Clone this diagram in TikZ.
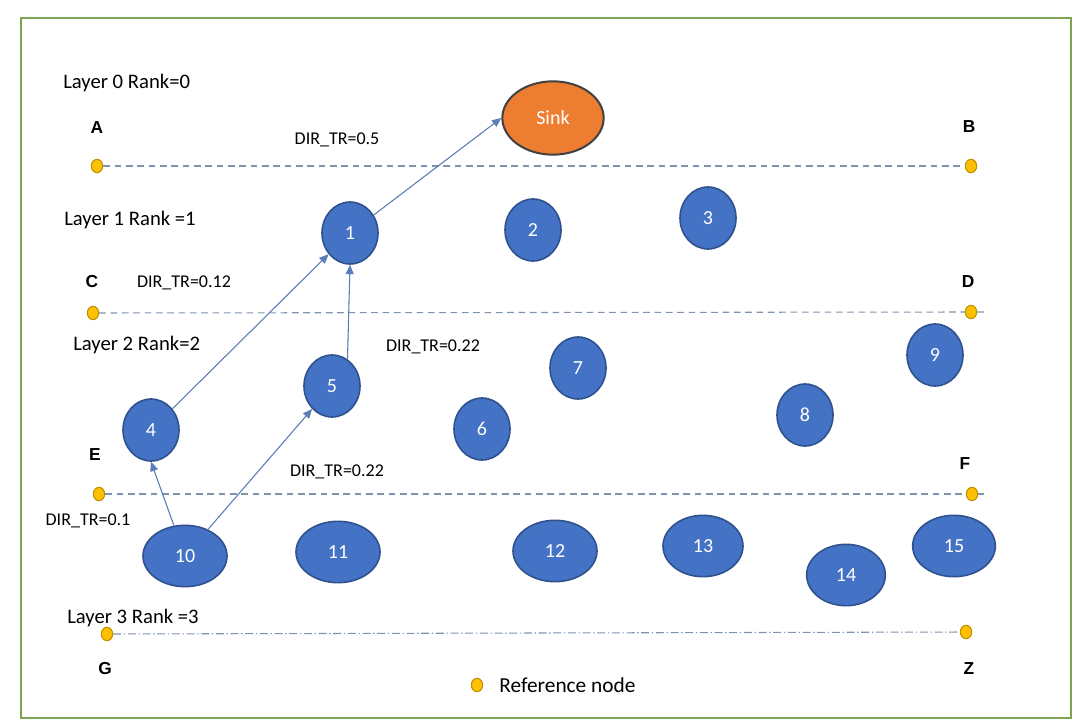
\documentclass[tikz,border=0pt]{standalone}
\usepackage{fontspec}
\setmainfont{Carlito}
\newfontfamily\arialfont{Liberation Sans}
\usepackage{tikz}
\usepackage{xcolor}
\usetikzlibrary{arrows.meta,positioning,shapes.geometric}
\definecolor{NetBlue}{HTML}{4472C4}
\definecolor{NetEdge}{HTML}{2F528F}
\definecolor{SinkOrange}{HTML}{ED7D31}
\definecolor{RefGold}{HTML}{FFC000}
\definecolor{RefEdge}{HTML}{BF9000}
\definecolor{FrameGreen}{HTML}{7DA453}
\definecolor{LineGray}{HTML}{7F93AE}
\definecolor{ArrowBlue}{HTML}{5B7DB8}

\begin{document}
\begin{tikzpicture}[
  x=0.75pt,y=-0.75pt,
  sensor/.style={ellipse,draw=NetEdge,fill=NetBlue,line width=1.2pt,inner sep=0pt,minimum width=42pt,minimum height=46.5pt,text=white,font=\fontsize{15}{18}\selectfont},
  wide/.style={sensor,minimum width=63pt,minimum height=46pt},
  sink/.style={ellipse,draw=black!75,fill=SinkOrange,line width=1.5pt,inner sep=0pt,minimum width=76pt,minimum height=55pt,text=white,font=\fontsize{15}{18}\selectfont},
  refdot/.style={ellipse,draw=RefEdge,fill=RefGold,line width=0.8pt,inner sep=0pt,minimum width=8.5pt,minimum height=10pt},
  ptlabel/.style={inner sep=0pt,font=\arialfont\bfseries\fontsize{13}{15}\selectfont},
  layer/.style={anchor=west,inner sep=0pt,font=\fontsize{15.5}{18}\selectfont},
  dirtr/.style={inner sep=0pt,font=\fontsize{13.5}{16}\selectfont},
  layerline/.style={dash pattern=on 5pt off 3.5pt,draw=LineGray,line width=0.8pt},
  baseline/.style={draw=LineGray,line width=0.8pt,dash pattern=on 6pt off 2pt on 1pt off 2pt},
  arrow/.style={-{Triangle[length=7pt,width=6pt]},draw=ArrowBlue,fill=ArrowBlue,line width=0.8pt}
]
\useasboundingbox (0,0) rectangle (1084,727);
\draw[draw=FrameGreen,line width=2.2pt] (21,18) rectangle (1071,718);

\node[layer] (l0) at (63,83) {Layer 0 Rank=0};
\node[layer] (l1) at (64,220) {Layer 1 Rank =1};
\node[layer] (l2) at (73,345) {Layer 2 Rank=2};
\node[layer] (l3) at (67,618) {Layer 3 Rank =3};

\node[ptlabel] (la) at (97,128) {A};
\node[ptlabel] (lb) at (969,127) {B};
\node[ptlabel] (lc) at (92,282) {C};
\node[ptlabel] (ld) at (968,282) {D};
\node[ptlabel] (le) at (95,455) {E};
\node[ptlabel] (lf) at (965,464) {F};
\node[ptlabel] (lg) at (105,669) {G};
\node[ptlabel] (lz) at (969,669) {Z};

\node[refdot] (A) at (97,166) {};
\node[refdot] (B) at (971,166) {};
\node[refdot] (C) at (93,313) {};
\node[refdot] (D) at (971,312) {};
\node[refdot] (E) at (99,494) {};
\node[refdot] (F) at (972,494) {};
\node[refdot] (G) at (107,634) {};
\node[refdot] (Z) at (966,632) {};
\coordinate (Dend) at (986,312);
\coordinate (Fend) at (984,494);

\draw[layerline] (A) -- (B);
\draw[layerline] (C) -- (D) -- (Dend);
\draw[layerline] (E) -- (F) -- (Fend);
\draw[baseline] (G) -- (Z);

\node[dirtr] (d0) at (337,140) {DIR\_TR=0.5};
\node[dirtr] (d1) at (184,283) {DIR\_TR=0.12};
\node[dirtr] (d2) at (433,347) {DIR\_TR=0.22};
\node[dirtr] (d3) at (337,472) {DIR\_TR=0.22};
\node[dirtr] (d4) at (88,521) {DIR\_TR=0.1};

\node[sink] (sink) at (553,118) {Sink};
\node[sensor] (n1) at (350,233) {1};
\node[sensor] (n2) at (533,230) {2};
\node[sensor] (n3) at (708,218) {3};
\node[sensor] (n4) at (151,430) {4};
\node[sensor] (n5) at (332,386) {5};
\node[sensor] (n6) at (482,429) {6};
\node[sensor] (n7) at (578,368) {7};
\node[sensor] (n8) at (805,415) {8};
\node[sensor] (n9) at (935,355) {9};
\node[wide] (n10) at (185,556) {10};
\node[wide] (n11) at (338,552) {11};
\node[wide] (n12) at (555,551) {12};
\node[wide,minimum width=60pt] (n13) at (703,546) {13};
\node[wide,minimum width=59pt] (n14) at (846,575) {14};
\node[wide,minimum width=62pt] (n15) at (954,546) {15};

\draw[arrow] (n1) -- (sink.west);
\draw[arrow] (n4) -- (n1);
\draw[arrow] (n5.60) -- (n1.south);
\draw[arrow] (n10.110) -- (n4.south);
\draw[arrow] (n10) -- (n5);

\node[refdot] (legdot) at (477,685) {};
\node[anchor=west,inner sep=0pt,font=\fontsize{16}{19}\selectfont,right=12pt of legdot] (legtext) {Reference node};
\end{tikzpicture}
\end{document}
